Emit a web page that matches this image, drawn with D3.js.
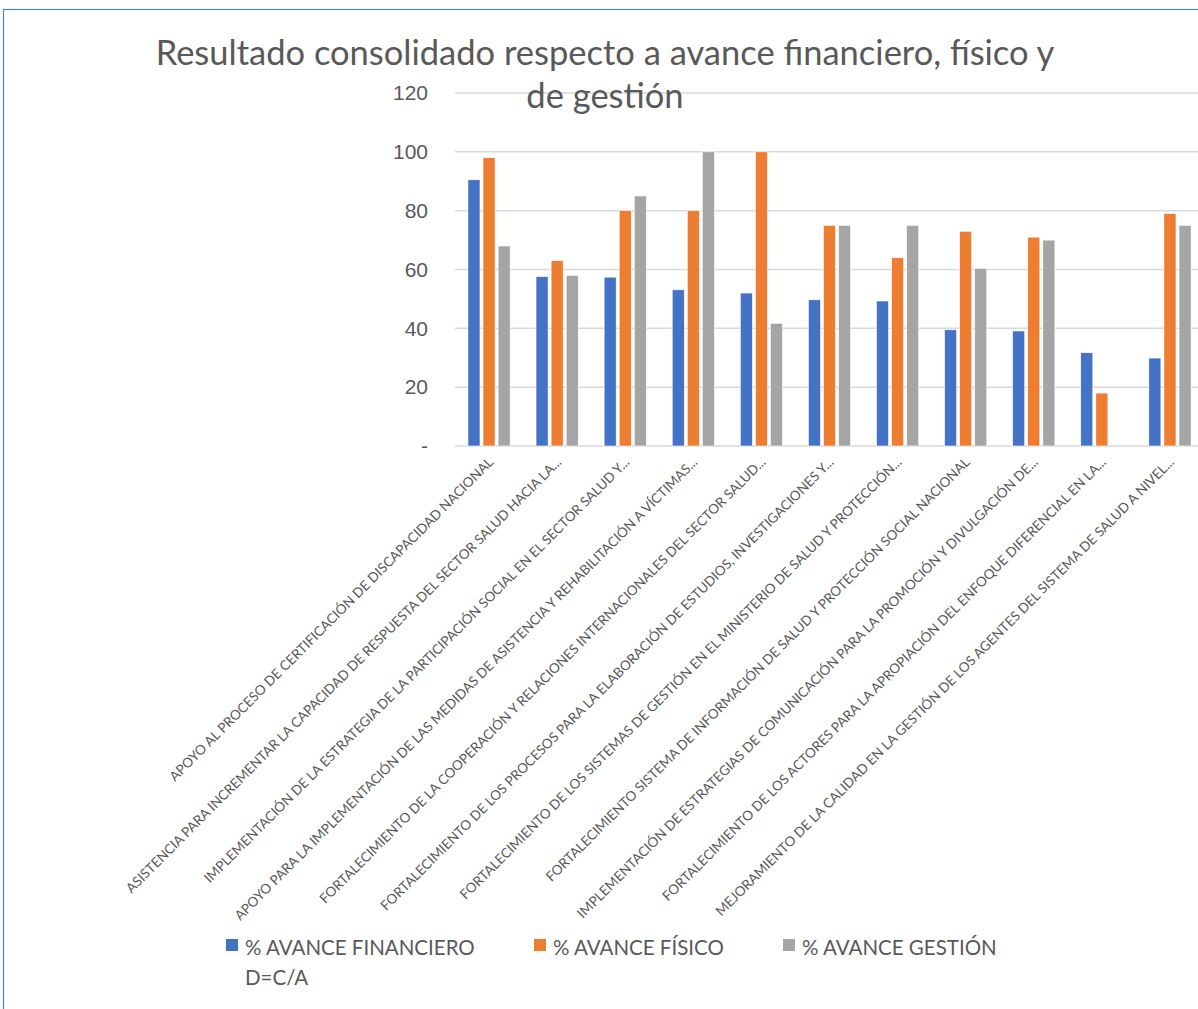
<!DOCTYPE html>
<html>
<head>
<meta charset="utf-8">
<script src="https://cdn.jsdelivr.net/npm/d3@7"></script>
<style>
	body { margin: 0; background: #fff; }
	svg { display: block; font-family: Lato, 'Open Sans', sans-serif; }
	.tick-label { fill: #595959; font-size: 21px; }
	.cat-label { fill: #595959; font-size: 13.5px; }
	.legend-text { fill: #595959; font-size: 20.5px; }
</style>
</head>
<body>
<script>
const categories = [
	'APOYO AL PROCESO DE CERTIFICACIÓN DE DISCAPACIDAD NACIONAL',
	'ASISTENCIA PARA INCREMENTAR LA CAPACIDAD DE RESPUESTA DEL SECTOR SALUD HACIA LA...',
	'IMPLEMENTACIÓN DE LA ESTRATEGIA DE LA PARTICIPACIÓN SOCIAL EN EL SECTOR SALUD Y...',
	'APOYO PARA LA IMPLEMENTACIÓN DE LAS MEDIDAS DE ASISTENCIA Y REHABILITACIÓN A VÍCTIMAS...',
	'FORTALECIMIENTO DE LA COOPERACIÓN Y RELACIONES INTERNACIONALES DEL SECTOR SALUD...',
	'FORTALECIMIENTO DE LOS PROCESOS PARA LA ELABORACIÓN DE ESTUDIOS, INVESTIGACIONES Y...',
	'FORTALECIMIENTO DE LOS SISTEMAS DE GESTIÓN EN EL MINISTERIO DE SALUD Y PROTECCIÓN...',
	'FORTALECIMIENTO SISTEMA DE INFORMACIÓN DE SALUD Y PROTECCIÓN SOCIAL NACIONAL',
	'IMPLEMENTACIÓN DE ESTRATEGIAS DE COMUNICACIÓN PARA LA PROMOCIÓN Y DIVULGACIÓN DE...',
	'FORTALECIMIENTO DE LOS ACTORES PARA LA APROPIACIÓN DEL ENFOQUE DIFERENCIAL EN LA...',
	'MEJORAMIENTO DE LA CALIDAD EN LA GESTIÓN DE LOS AGENTES DEL SISTEMA DE SALUD A NIVEL...'
];
const financiero = [90.5, 57.6, 57.4, 53.1, 52, 49.7, 49.3, 39.5, 39.1, 31.7, 29.9];
const fisico = [98, 63, 80, 80, 100, 75, 64, 73, 71, 18, 79];
const gestion = [68, 58, 85, 100, 41.7, 75, 75, 60.4, 70, 0, 75];
const seriesNames = [['% AVANCE FINANCIERO', 'D=C/A'], ['% AVANCE FÍSICO'], ['% AVANCE GESTIÓN']];
const seriesColors = ['#4472C4', '#ED7D31', '#A5A5A5'];
const yTicks = [0, 20, 40, 60, 80, 100, 120];
const titleLines = ['Resultado consolidado respecto a avance financiero, físico y', 'de gestión'];

const W = 1198, H = 1009;
const svg = d3.select('body').append('svg').attr('width', W).attr('height', H);

// outer frame (only top and left edge visible)
svg.append('rect')
	.attr('x', 3.5).attr('y', 9.5)
	.attr('width', 1400).attr('height', 1200)
	.attr('fill', 'none')
	.attr('stroke', '#4F7FCF')
	.attr('stroke-width', 1.2);

const x0 = d3.scaleBand()
	.domain(d3.range(categories.length))
	.range([455, 1204])
	.paddingInner(0.38)
	.paddingOuter(0.19);
const x1 = d3.scaleBand()
	.domain(d3.range(3))
	.range([0, x0.bandwidth()])
	.paddingInner(0.2);
const y = d3.scaleLinear().domain([0, 120]).range([446, 93]);

// gridlines
svg.append('g').selectAll('line')
	.data(yTicks)
	.enter()
	.append('line')
	.attr('x1', 455).attr('x2', W)
	.attr('y1', d => y(d)).attr('y2', d => y(d))
	.attr('stroke', '#d9d9d9')
	.attr('stroke-width', 1.5);

// y labels
const yAxis = d3.axisLeft(y).tickValues(yTicks).tickSize(0).tickPadding(0)
	.tickFormat(d => d === 0 ? '-' : d);
const yg = svg.append('g').attr('transform', 'translate(428,0)').call(yAxis);
yg.select('.domain').remove();
yg.selectAll('text').attr('class', 'tick-label').attr('fill', null).attr('font-size', null).attr('font-family', null);

// bars
const series = [financiero, fisico, gestion];
const groups = svg.append('g').selectAll('g')
	.data(categories)
	.enter()
	.append('g')
	.attr('transform', (d, i) => `translate(${x0(i)},0)`);
groups.selectAll('rect')
	.data((d, i) => series.map((s, k) => ({ k: k, v: s[i] })))
	.enter()
	.append('rect')
	.attr('x', d => x1(d.k))
	.attr('width', x1.bandwidth())
	.attr('y', d => y(d.v))
	.attr('height', d => y(0) - y(d.v))
	.attr('fill', d => seriesColors[d.k])
	.attr('stroke', '#fff')
	.attr('stroke-width', 0.6);

// rotated category labels
svg.append('g').selectAll('text')
	.data(categories)
	.enter()
	.append('text')
	.attr('class', 'cat-label')
	.attr('text-anchor', 'end')
	.attr('transform', (d, i) => `translate(${x0(i) + x0.bandwidth() / 2 + 5},463) rotate(-45)`)
	.text(d => d);

// title
svg.append('text')
	.attr('x', 605).attr('y', 65)
	.attr('text-anchor', 'middle')
	.attr('fill', '#595959')
	.attr('font-size', 34.5)
	.selectAll('tspan')
	.data(titleLines)
	.enter()
	.append('tspan')
	.attr('x', 605)
	.attr('dy', (d, i) => i ? 43 : 0)
	.text(d => d);

// legend
const legendX = [226, 534, 783];
const lg = svg.append('g').selectAll('g')
	.data(seriesNames)
	.enter()
	.append('g')
	.attr('transform', (d, i) => `translate(${legendX[i]},939)`);
lg.append('rect')
	.attr('width', 12).attr('height', 12)
	.attr('fill', (d, i) => seriesColors[i]);
lg.append('text')
	.attr('class', 'legend-text')
	.attr('y', 16)
	.selectAll('tspan')
	.data(d => d)
	.enter()
	.append('tspan')
	.attr('x', 19)
	.attr('dy', (d, i) => i ? 30 : 0)
	.text(d => d);
</script>
</body>
</html>
